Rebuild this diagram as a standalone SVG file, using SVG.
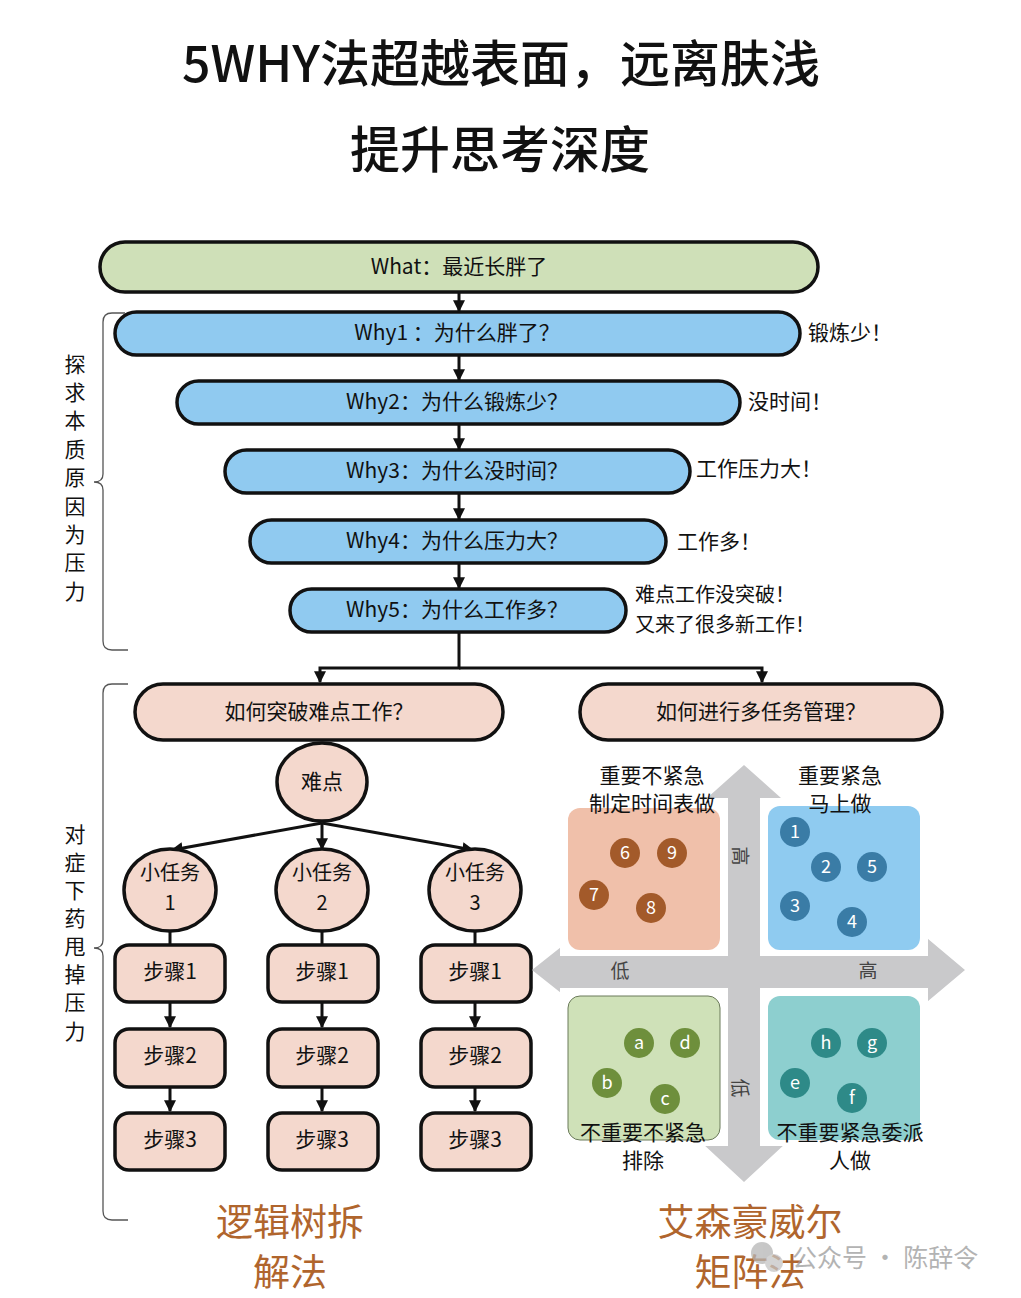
<svg xmlns="http://www.w3.org/2000/svg" width="1021" height="1298" viewBox="0 0 1021 1298">
<defs>
<marker id="ah" viewBox="0 0 10 10" refX="9" refY="5" markerWidth="4" markerHeight="4" orient="auto" markerUnits="strokeWidth"><path d="M0,0 L10,5 L0,10 z" fill="#111"/></marker>
<style>
text{font-family:"Noto Sans CJK SC","Noto Sans",sans-serif;fill:#111}
.t{font-size:21px;text-anchor:middle;dominant-baseline:central}
.tk{font-size:20px;text-anchor:middle;dominant-baseline:central}
.a{font-size:21px;dominant-baseline:central}
.n{stroke:#111;stroke-width:3.5}
.g{fill:#cfe0b8}.b{fill:#90caf0}.p{fill:#f4d8cd}
.c{stroke:#111;stroke-width:3;fill:none}
.br{stroke:#555;stroke-width:1.3;fill:none}
.v{font-size:21px;text-anchor:middle;dominant-baseline:central}
.q{font-size:21px;text-anchor:middle;dominant-baseline:central}
.d{font-size:18px;text-anchor:middle;dominant-baseline:central;fill:#fff}
.ax{font-size:19px;text-anchor:middle;dominant-baseline:central;fill:#444}
.big{font-size:37px;text-anchor:middle;dominant-baseline:central;fill:#b0652d}
</style>
</defs>
<rect width="1021" height="1298" fill="#fff"/>
<g id="title">
<text x="501" y="60" style="font-size:50px;font-weight:500" text-anchor="middle" dominant-baseline="central">5WHY法超越表面，远离肤浅</text>
<text x="500" y="146" style="font-size:50px;font-weight:500" text-anchor="middle" dominant-baseline="central">提升思考深度</text>
</g>
<g id="connectors">
<line class="c" x1="459" y1="292" x2="459" y2="311" marker-end="url(#ah)"/>
<line class="c" x1="459" y1="355" x2="459" y2="380" marker-end="url(#ah)"/>
<line class="c" x1="459" y1="424" x2="459" y2="449" marker-end="url(#ah)"/>
<line class="c" x1="459" y1="493" x2="459" y2="519" marker-end="url(#ah)"/>
<line class="c" x1="459" y1="563" x2="459" y2="588" marker-end="url(#ah)"/>
<polyline class="c" points="459,632 459,668 320,668 320,682" marker-end="url(#ah)"/>
<polyline class="c" points="459,668 762,668 762,682" marker-end="url(#ah)"/>
<line class="c" x1="322" y1="823" x2="172" y2="850" marker-end="url(#ah)"/>
<line class="c" x1="322" y1="823" x2="322" y2="849" marker-end="url(#ah)"/>
<line class="c" x1="322" y1="823" x2="473" y2="850" marker-end="url(#ah)"/>
<line class="c" x1="170" y1="932" x2="170" y2="945"/>
<line class="c" x1="322" y1="932" x2="322" y2="945"/>
<line class="c" x1="475" y1="932" x2="475" y2="945"/>
<line class="c" x1="170" y1="1002" x2="170" y2="1027" marker-end="url(#ah)"/>
<line class="c" x1="322" y1="1002" x2="322" y2="1027" marker-end="url(#ah)"/>
<line class="c" x1="475" y1="1002" x2="475" y2="1027" marker-end="url(#ah)"/>
<line class="c" x1="170" y1="1087" x2="170" y2="1111" marker-end="url(#ah)"/>
<line class="c" x1="322" y1="1087" x2="322" y2="1111" marker-end="url(#ah)"/>
<line class="c" x1="475" y1="1087" x2="475" y2="1111" marker-end="url(#ah)"/>
</g>
<g id="what"><rect class="n g" x="100" y="242" width="718" height="50" rx="25"/><text class="t" x="459" y="265">What：最近长胖了</text></g>
<g id="why1"><rect class="n b" x="115" y="312" width="685" height="43" rx="21.5"/><text class="t" x="457" y="331">Why1 ：为什么胖了？</text></g>
<g id="why2"><rect class="n b" x="177" y="381" width="563" height="43" rx="21.5"/><text class="t" x="457" y="400">Why2：为什么锻炼少？</text></g>
<g id="why3"><rect class="n b" x="225" y="450" width="465" height="43" rx="21.5"/><text class="t" x="457" y="469">Why3：为什么没时间？</text></g>
<g id="why4"><rect class="n b" x="250" y="520" width="416" height="43" rx="21.5"/><text class="t" x="457" y="539">Why4：为什么压力大？</text></g>
<g id="why5"><rect class="n b" x="290" y="589" width="336" height="43" rx="21.5"/><text class="t" x="457" y="608">Why5：为什么工作多？</text></g>
<g id="answers">
<text class="a" x="808" y="331">锻炼少！</text>
<text class="a" x="748" y="400">没时间！</text>
<text class="a" x="696" y="467">工作压力大！</text>
<text class="a" x="677" y="540">工作多！</text>
<text class="a" x="635" y="593" style="font-size:20px">难点工作没突破！</text>
<text class="a" x="635" y="623" style="font-size:20px">又来了很多新工作！</text>
</g>
<g id="bracket1">
<path class="br" d="M125,313 H112 Q103,313 103,322 V474 Q103,482 94,482 Q103,482 103,490 V641 Q103,650 112,650 H128"/>
<text class="v" x="75" y="363">探</text><text class="v" x="75" y="391">求</text><text class="v" x="75" y="419">本</text><text class="v" x="75" y="448">质</text><text class="v" x="75" y="476">原</text><text class="v" x="75" y="505">因</text><text class="v" x="75" y="533">为</text><text class="v" x="75" y="561">压</text><text class="v" x="75" y="590">力</text>
</g>
<g id="bracket2">
<path class="br" d="M128,684 H112 Q103,684 103,693 V940 Q103,948 94,948 Q103,948 103,956 V1211 Q103,1220 112,1220 H128"/>
<text class="v" x="75" y="833">对</text><text class="v" x="75" y="861">症</text><text class="v" x="75" y="889">下</text><text class="v" x="75" y="917">药</text><text class="v" x="75" y="945">甩</text><text class="v" x="75" y="973">掉</text><text class="v" x="75" y="1001">压</text><text class="v" x="75" y="1030">力</text>
</g>
<g id="q1"><rect class="n p" x="135" y="684" width="368" height="56" rx="28"/><text class="t" x="319" y="710">如何突破难点工作？</text></g>
<g id="q2"><rect class="n p" x="580" y="684" width="362" height="56" rx="28"/><text class="t" x="761" y="710">如何进行多任务管理？</text></g>
<g id="nandian"><ellipse class="n p" cx="322" cy="782" rx="45" ry="39"/><text class="t" x="322" y="780">难点</text></g>
<g id="task1"><ellipse class="n p" cx="170" cy="890" rx="46" ry="41"/><text class="tk" x="170" y="871">小任务</text><text class="tk" x="170" y="901">1</text></g>
<g id="task2"><ellipse class="n p" cx="322" cy="890" rx="46" ry="41"/><text class="tk" x="322" y="871">小任务</text><text class="tk" x="322" y="901">2</text></g>
<g id="task3"><ellipse class="n p" cx="475" cy="890" rx="46" ry="41"/><text class="tk" x="475" y="871">小任务</text><text class="tk" x="475" y="901">3</text></g>
<g id="s11"><rect class="n p" x="115" y="945" width="110" height="57" rx="14"/><text class="t" x="170" y="970">步骤1</text></g>
<g id="s12"><rect class="n p" x="115" y="1029" width="110" height="58" rx="14"/><text class="t" x="170" y="1054">步骤2</text></g>
<g id="s13"><rect class="n p" x="115" y="1113" width="110" height="57" rx="14"/><text class="t" x="170" y="1138">步骤3</text></g>
<g id="s21"><rect class="n p" x="268" y="945" width="110" height="57" rx="14"/><text class="t" x="322" y="970">步骤1</text></g>
<g id="s22"><rect class="n p" x="268" y="1029" width="110" height="58" rx="14"/><text class="t" x="322" y="1054">步骤2</text></g>
<g id="s23"><rect class="n p" x="268" y="1113" width="110" height="57" rx="14"/><text class="t" x="322" y="1138">步骤3</text></g>
<g id="s31"><rect class="n p" x="421" y="945" width="110" height="57" rx="14"/><text class="t" x="475" y="970">步骤1</text></g>
<g id="s32"><rect class="n p" x="421" y="1029" width="110" height="58" rx="14"/><text class="t" x="475" y="1054">步骤2</text></g>
<g id="s33"><rect class="n p" x="421" y="1113" width="110" height="57" rx="14"/><text class="t" x="475" y="1138">步骤3</text></g>
<g id="matrix">
<path fill="#c9c9cb" d="M744,765 L800,815 L762,815 L762,948 L915,948 L915,928 L965,970 L915,1012 L915,990 L762,990 L762,1130 L800,1130 L744,1182 L688,1130 L726,1130 L726,990 L585,990 L585,1012 L532,970 L585,928 L585,948 L726,948 L726,815 L688,815 Z"/>
<rect x="560" y="798" width="168" height="158" fill="#fff"/>
<rect x="760" y="798" width="168" height="158" fill="#fff"/>
<rect x="560" y="988" width="168" height="158" fill="#fff"/>
<rect x="760" y="988" width="168" height="158" fill="#fff"/>
<rect x="568" y="808" width="152" height="142" rx="12" fill="#f0c0aa"/>
<rect x="768" y="806" width="152" height="144" rx="12" fill="#8fcbf0"/>
<rect x="568" y="996" width="152" height="144" rx="12" fill="#cfe1b8" stroke="#6b7a5a" stroke-width="1"/>
<rect x="768" y="996" width="152" height="144" rx="12" fill="#8dcfcf"/>
<g fill="#a35a2a"><circle cx="625" cy="853" r="15"/><circle cx="672" cy="853" r="15"/><circle cx="594" cy="895" r="15"/><circle cx="651" cy="908" r="15"/></g>
<text class="d" x="625" y="851">6</text><text class="d" x="672" y="851">9</text><text class="d" x="594" y="893">7</text><text class="d" x="651" y="906">8</text>
<g fill="#3a7ca6"><circle cx="795" cy="832" r="15"/><circle cx="826" cy="867" r="15"/><circle cx="872" cy="867" r="15"/><circle cx="795" cy="906" r="15"/><circle cx="852" cy="922" r="15"/></g>
<text class="d" x="795" y="830">1</text><text class="d" x="826" y="865">2</text><text class="d" x="872" y="865">5</text><text class="d" x="795" y="904">3</text><text class="d" x="852" y="920">4</text>
<g fill="#6e8f3c"><circle cx="639" cy="1043" r="15"/><circle cx="685" cy="1043" r="15"/><circle cx="607" cy="1083" r="15"/><circle cx="665" cy="1099" r="15"/></g>
<text class="d" x="639" y="1041">a</text><text class="d" x="685" y="1041">d</text><text class="d" x="607" y="1081">b</text><text class="d" x="665" y="1097">c</text>
<g fill="#2e8a88"><circle cx="826" cy="1043" r="15"/><circle cx="872" cy="1043" r="15"/><circle cx="795" cy="1083" r="15"/><circle cx="852" cy="1098" r="15"/></g>
<text class="d" x="826" y="1041">h</text><text class="d" x="872" y="1041">g</text><text class="d" x="795" y="1081">e</text><text class="d" x="852" y="1096">f</text>
<text class="q" x="652" y="774">重要不紧急</text><text class="q" x="652" y="802">制定时间表做</text>
<text class="q" x="840" y="774">重要紧急</text><text class="q" x="840" y="802">马上做</text>
<text class="q" x="643" y="1131">不重要不紧急</text><text class="q" x="643" y="1159">排除</text>
<text class="q" x="850" y="1131">不重要紧急委派</text><text class="q" x="850" y="1159">人做</text>
<text class="ax" x="620" y="969">低</text><text class="ax" x="868" y="969">高</text>
<text class="ax" transform="translate(741,856) rotate(90)" x="0" y="0">高</text>
<text class="ax" transform="translate(741,1088) rotate(90)" x="0" y="0">低</text>
</g>
<g id="labels">
<text class="big" x="290" y="1220">逻辑树拆</text><text class="big" x="290" y="1270">解法</text>
<text class="big" x="750" y="1220">艾森豪威尔</text><text class="big" x="750" y="1270">矩阵法</text>
</g>
<g id="watermark" opacity="0.75">
<circle cx="762" cy="1253" r="11" fill="#b5b5b5"/><circle cx="774" cy="1263" r="9" fill="#c5c5c5"/>
<text x="792" y="1256" style="font-size:25px;fill:#9a9a9a" dominant-baseline="central">公众号 · 陈辞令</text>
</g>
</svg>
